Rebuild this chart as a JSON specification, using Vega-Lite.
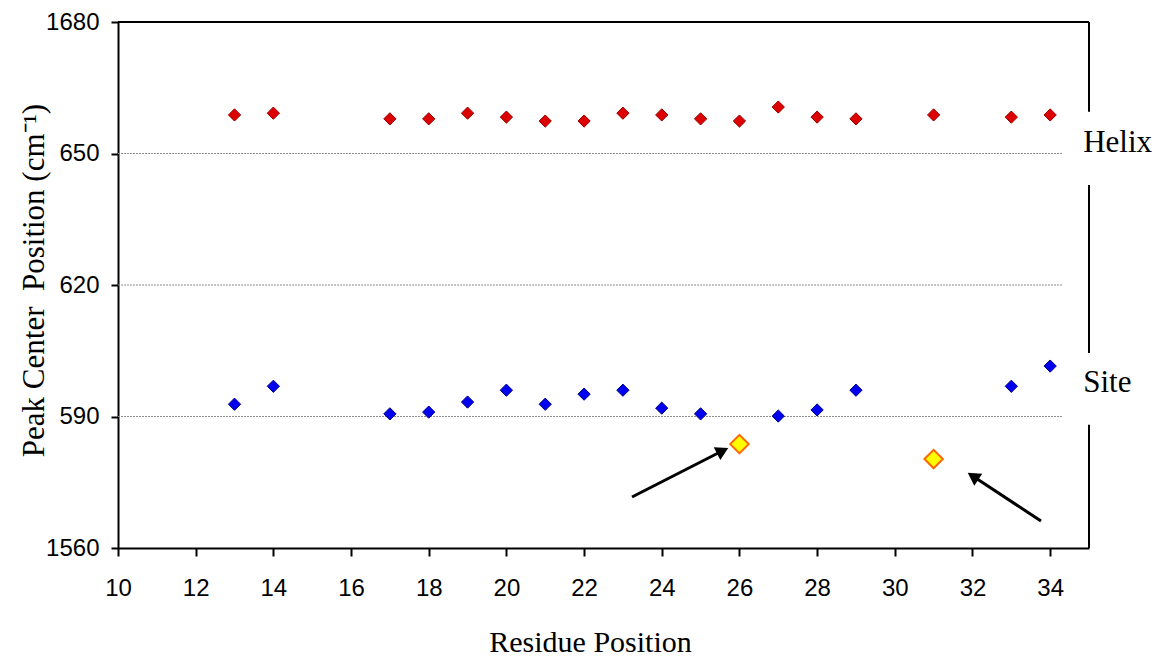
{
  "$schema": "https://vega.github.io/schema/vega-lite/v6.json",
  "width": 971,
  "height": 526,
  "autosize": "none",
  "padding": {"left": 118, "top": 22, "right": 69, "bottom": 110},
  "background": "white",
  "config": {"view": {"stroke": null}},
  "datasets": {
    "helix": [
      {"residue": 13, "peak": 1658.8},
      {"residue": 14, "peak": 1659.2},
      {"residue": 17, "peak": 1657.9},
      {"residue": 18, "peak": 1657.9},
      {"residue": 19, "peak": 1659.2},
      {"residue": 20, "peak": 1658.3},
      {"residue": 21, "peak": 1657.4},
      {"residue": 22, "peak": 1657.4},
      {"residue": 23, "peak": 1659.2},
      {"residue": 24, "peak": 1658.8},
      {"residue": 25, "peak": 1657.9},
      {"residue": 26, "peak": 1657.4},
      {"residue": 27, "peak": 1660.6},
      {"residue": 28, "peak": 1658.3},
      {"residue": 29, "peak": 1657.9},
      {"residue": 31, "peak": 1658.8},
      {"residue": 33, "peak": 1658.3},
      {"residue": 34, "peak": 1658.8}
    ],
    "site": [
      {"residue": 13, "peak": 1592.8},
      {"residue": 14, "peak": 1596.9},
      {"residue": 17, "peak": 1590.6},
      {"residue": 18, "peak": 1591.0},
      {"residue": 19, "peak": 1593.3},
      {"residue": 20, "peak": 1596.0},
      {"residue": 21, "peak": 1592.8},
      {"residue": 22, "peak": 1595.1},
      {"residue": 23, "peak": 1596.0},
      {"residue": 24, "peak": 1591.9},
      {"residue": 25, "peak": 1590.6},
      {"residue": 27, "peak": 1590.1},
      {"residue": 28, "peak": 1591.5},
      {"residue": 29, "peak": 1596.0},
      {"residue": 33, "peak": 1596.9},
      {"residue": 34, "peak": 1601.5}
    ],
    "shifted": [
      {"residue": 26, "peak": 1583.7},
      {"residue": 31, "peak": 1580.3}
    ],
    "grid": [
      {"x": 10, "x2": 34.33, "y": 1650},
      {"x": 10, "x2": 34.33, "y": 1620},
      {"x": 10, "x2": 34.33, "y": 1590}
    ],
    "frame": [
      {"x": 10, "x2": 35, "y": 1680, "y2": 1680},
      {"x": 35, "x2": 35, "y": 1680, "y2": 1659.5},
      {"x": 35, "x2": 35, "y": 1642.8, "y2": 1604.5},
      {"x": 35, "x2": 35, "y": 1588.1, "y2": 1560}
    ],
    "labels": [
      {"x": 34.85, "y": 1650.34, "text": "Helix"},
      {"x": 34.85, "y": 1595.59, "text": "Site"}
    ],
    "arrow1": [{"x": 23.234, "y": 1571.63, "x2": 25.567, "y2": 1582.19}],
    "arrow2": [{"x": 33.764, "y": 1566.16, "x2": 32.014, "y2": 1576.36}]
  },
  "layer": [
    {
      "data": {"name": "grid"},
      "mark": {"type": "rule", "color": "#8c8c8c", "strokeWidth": 1, "strokeDash": [2, 1]},
      "encoding": {
        "x": {"field": "x", "type": "quantitative", "scale": {"domain": [10, 35], "nice": false, "zero": false},
          "axis": {
            "values": [10, 12, 14, 16, 18, 20, 22, 24, 26, 28, 30, 32, 34],
            "title": "Residue Position",
            "grid": false,
            "domainColor": "black", "domainWidth": 2,
            "tickColor": "black", "tickWidth": 2, "tickSize": 8,
            "labelFont": "Liberation Sans", "labelFontSize": 24, "labelColor": "black", "labelPadding": 20,
            "labelFlush": false, "labelOverlap": false,
            "titleFont": "Liberation Serif", "titleFontSize": 30, "titleFontWeight": "normal", "titleColor": "black",
            "titleX": 472, "titleY": 103, "titleBaseline": "alphabetic", "titleAlign": "center"
          }},
        "x2": {"field": "x2"},
        "y": {"field": "y", "type": "quantitative", "scale": {"domain": [1560, 1680], "nice": false, "zero": false},
          "axis": {
            "values": [1560, 1590, 1620, 1650, 1680],
            "format": "d",
            "labelExpr": "datum.value == 1650 ? '650' : datum.value == 1620 ? '620' : datum.value == 1590 ? '590' : datum.label",
            "title": "Peak Center\u00a0 Position (cm⁻¹)",
            "grid": false,
            "domainColor": "black", "domainWidth": 2,
            "tickColor": "black", "tickWidth": 2, "tickSize": 7,
            "labelFont": "Liberation Sans", "labelFontSize": 24, "labelColor": "black", "labelPadding": 12,
            "labelFlush": false, "labelOverlap": false,
            "titleFont": "Liberation Serif", "titleFontSize": 31, "titleFontWeight": "normal", "titleColor": "black",
            "titleX": -75, "titleY": 258, "titleAngle": -90, "titleBaseline": "alphabetic", "titleAlign": "center"
          }}
      }
    },
    {
      "data": {"name": "frame"},
      "mark": {"type": "rule", "color": "black", "strokeWidth": 2},
      "encoding": {
        "x": {"field": "x", "type": "quantitative"},
        "x2": {"field": "x2"},
        "y": {"field": "y", "type": "quantitative"},
        "y2": {"field": "y2"}
      }
    },
    {
      "data": {"name": "helix"},
      "mark": {"type": "point", "shape": "diamond", "filled": true, "opacity": 1, "fill": "#dd0000", "stroke": "#990000", "strokeWidth": 1, "size": 150},
      "encoding": {
        "x": {"field": "residue", "type": "quantitative"},
        "y": {"field": "peak", "type": "quantitative"}
      }
    },
    {
      "data": {"name": "site"},
      "mark": {"type": "point", "shape": "diamond", "filled": true, "opacity": 1, "fill": "#0000ee", "stroke": "#000088", "strokeWidth": 1, "size": 150},
      "encoding": {
        "x": {"field": "residue", "type": "quantitative"},
        "y": {"field": "peak", "type": "quantitative"}
      }
    },
    {
      "data": {"name": "shifted"},
      "mark": {"type": "point", "shape": "diamond", "filled": true, "opacity": 1, "fill": "#ffff00", "stroke": "#ff6600", "strokeWidth": 2, "size": 340},
      "encoding": {
        "x": {"field": "residue", "type": "quantitative"},
        "y": {"field": "peak", "type": "quantitative"}
      }
    },
    {
      "data": {"name": "arrow1"},
      "layer": [
        {"mark": {"type": "rule", "color": "black", "strokeWidth": 3},
          "encoding": {"x": {"field": "x", "type": "quantitative"}, "x2": {"field": "x2"}, "y": {"field": "y", "type": "quantitative"}, "y2": {"field": "y2"}}},
        {"mark": {"type": "point", "shape": "triangle-up", "filled": true, "color": "black", "opacity": 1, "size": 210, "angle": 63},
          "encoding": {"x": {"field": "x2", "type": "quantitative"}, "y": {"field": "y2", "type": "quantitative"}}}
      ]
    },
    {
      "data": {"name": "arrow2"},
      "layer": [
        {"mark": {"type": "rule", "color": "black", "strokeWidth": 3},
          "encoding": {"x": {"field": "x", "type": "quantitative"}, "x2": {"field": "x2"}, "y": {"field": "y", "type": "quantitative"}, "y2": {"field": "y2"}}},
        {"mark": {"type": "point", "shape": "triangle-up", "filled": true, "color": "black", "opacity": 1, "size": 210, "angle": 303.3},
          "encoding": {"x": {"field": "x2", "type": "quantitative"}, "y": {"field": "y2", "type": "quantitative"}}}
      ]
    },
    {
      "data": {"name": "labels"},
      "mark": {"type": "text", "font": "Liberation Serif", "fontSize": 31, "color": "black", "align": "left", "baseline": "alphabetic", "clip": false},
      "encoding": {
        "x": {"field": "x", "type": "quantitative"},
        "y": {"field": "y", "type": "quantitative"},
        "text": {"field": "text"}
      }
    }
  ]
}
